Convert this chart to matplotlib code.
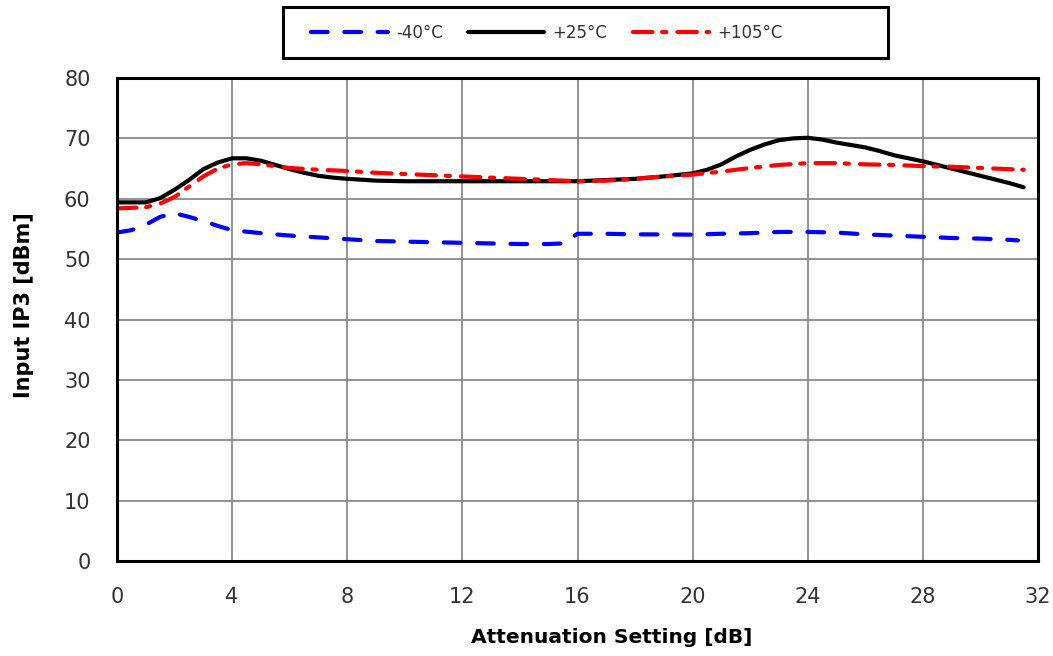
import matplotlib
matplotlib.use("Agg")
import matplotlib.pyplot as plt
from matplotlib.patches import Rectangle

# Data
x_m40 = [0, 0.5, 1, 1.5, 2, 2.5, 3, 3.5, 4, 5, 6, 7, 8, 9, 10, 11, 12, 13, 14, 15, 15.5,
         16, 17, 18, 19, 20, 21, 22, 23, 24, 25, 26, 27, 28, 29, 30, 31, 31.3]
y_m40 = [54.4, 54.8, 55.7, 57.0, 57.6, 57.0, 56.3, 55.5, 54.8, 54.3, 53.9, 53.6, 53.3, 53.0,
         52.9, 52.8, 52.7, 52.6, 52.5, 52.5, 52.6, 54.2, 54.2, 54.1, 54.1, 54.05, 54.2, 54.3,
         54.5, 54.5, 54.4, 54.1, 53.9, 53.7, 53.5, 53.4, 53.2, 53.1]

x_p25 = [0, 0.5, 1, 1.5, 2, 2.5, 3, 3.5, 4, 4.5, 5, 5.5, 6, 6.5, 7, 7.5, 8, 9, 10, 11, 12,
         13, 14, 15, 16, 17, 18, 19, 20, 20.5, 21, 21.5, 22, 22.5, 23, 23.5, 24, 24.5, 25,
         26, 26.5, 27, 28, 29, 30, 31, 31.5]
y_p25 = [59.4, 59.4, 59.4, 60.1, 61.5, 63.1, 64.9, 66.0, 66.7, 66.7, 66.3, 65.6, 64.9, 64.3,
         63.8, 63.5, 63.3, 63.0, 62.9, 62.9, 62.9, 62.9, 62.9, 62.9, 62.9, 63.1, 63.3, 63.7,
         64.2, 64.8, 65.7, 67.0, 68.1, 69.0, 69.7, 70.0, 70.1, 69.8, 69.3, 68.5, 67.9, 67.2,
         66.2, 65.0, 63.8, 62.6, 61.9]

x_p105 = [0, 1, 1.5, 2, 2.5, 3, 3.5, 4, 4.5, 5, 6, 7, 8, 9, 10, 11, 12, 13, 14, 15, 16, 17,
          18, 19, 20, 21, 22, 23, 24, 25, 26, 27, 28, 29, 30, 31, 31.5]
y_p105 = [58.4, 58.6, 59.2, 60.3, 62.0, 63.7, 65.0, 65.7, 65.9, 65.7, 65.1, 64.8, 64.6, 64.3,
          64.1, 63.9, 63.7, 63.5, 63.3, 63.1, 62.9, 63.0, 63.3, 63.7, 64.0, 64.5, 65.1, 65.6,
          65.9, 65.9, 65.7, 65.6, 65.4, 65.3, 65.1, 64.9, 64.8]

labels = ["-40°C", "+25°C", "+105°C"]
x_ticks = [0, 4, 8, 12, 16, 20, 24, 28, 32]
y_ticks = [0, 10, 20, 30, 40, 50, 60, 70, 80]

plt.rcParams['font.family'] = ['DejaVu Sans']
plt.rcParams['lines.scale_dashes'] = False

W, H = 1053, 656
fig = plt.figure(figsize=(W / 100, H / 100), dpi=100)
ax = fig.add_axes([117 / W, 1 - 561 / H, 921 / W, 483 / H])

l1, = ax.plot(x_m40, y_m40, color='#0000ff', lw=3.0, dashes=(12, 12), label=labels[0],
              solid_joinstyle='round', dash_capstyle='round')
l2, = ax.plot(x_p25, y_p25, color='black', lw=3.0, label=labels[1],
              solid_joinstyle='round', solid_capstyle='round')
l3, = ax.plot(x_p105, y_p105, color='#ff0000', lw=3.0, dashes=(14, 7, 3, 8), label=labels[2],
              dash_capstyle='round')

ax.set_xlim(0, 32)
ax.set_ylim(0, 80)
ax.set_xticks(x_ticks)
ax.set_yticks(y_ticks)
ax.grid(True, color='#8a8a8a', lw=1.3)
ax.set_axisbelow(True)
for s in ax.spines.values():
    s.set_linewidth(2.2)
    s.set_color('black')
ax.tick_params(axis='both', length=0, labelsize=15, colors='#333333')
ax.tick_params(axis='y', pad=19)
ax.tick_params(axis='x', pad=19)

ax.set_xlabel("Attenuation Setting [dB]", fontsize=14.5, fontweight='bold')
ax.xaxis.set_label_coords(0.537, -0.139)
ax.set_ylabel("Input IP3 [dBm]", fontsize=15, fontweight='bold')
ax.yaxis.set_label_coords(-0.090, 0.530)

# legend box
fig.patches.append(Rectangle((283 / W, 1 - 58 / H), 605 / W, 51 / H,
                             transform=fig.transFigure, facecolor='white',
                             edgecolor='black', lw=2.2, zorder=1))
leg = fig.legend(handles=[l1, l2, l3], loc='center left',
                 bbox_to_anchor=(311 / W, 1 - 32.5 / H), ncol=3,
                 fontsize=12, frameon=False, handlelength=4.6,
                 columnspacing=1.5, handletextpad=0.5, borderpad=0, borderaxespad=0)
leg.set_zorder(2)
for t in leg.get_texts():
    t.set_color('#333333')

fig.savefig("out.png", dpi=100)
